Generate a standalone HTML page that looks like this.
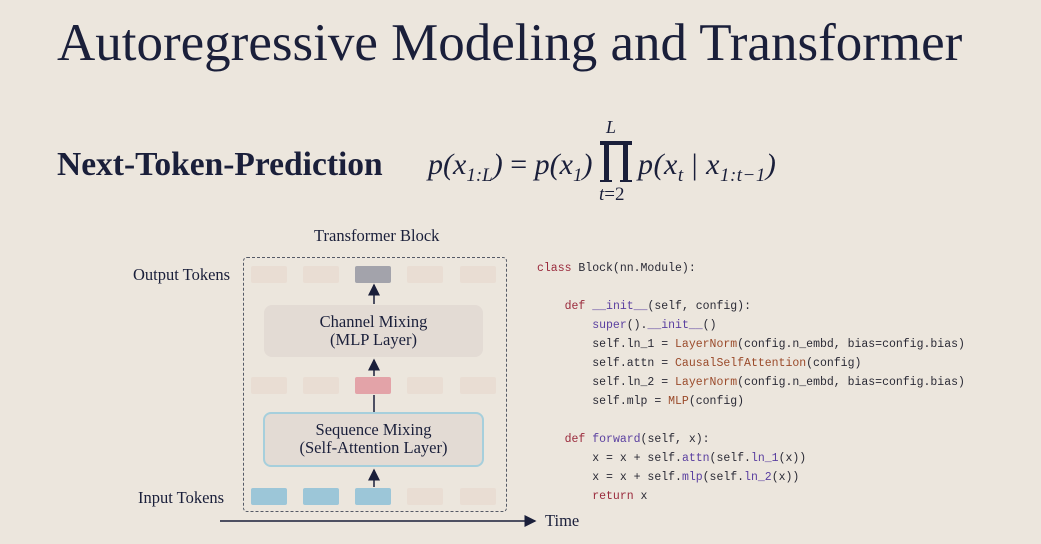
<!DOCTYPE html>
<html><head><style>
body{margin:0;width:1041px;height:544px;background:#ece6dd;position:relative;overflow:hidden;font-family:"Liberation Serif",serif;color:#1a1f3a}
.a{position:absolute;white-space:nowrap}
.tk{position:absolute;width:36px;height:17px;border-radius:2px;background:#e9ddd3}
.code{position:absolute;left:537px;top:259px;font-family:"Liberation Mono",monospace;font-size:11.5px;line-height:19px;color:#2a2a35;white-space:pre}
.k{color:#9a2a3c}.f{color:#5a3fa0}.c{color:#9a4a2a}
.m{font-size:30px;font-style:italic;line-height:1}
.m sub{font-size:19px}
</style></head><body>
<div class="a" style="left:57px;top:13px;font-size:53px;">Autoregressive Modeling and Transformer</div>
<div class="a" style="left:57px;top:146px;font-size:33.5px;font-weight:bold;">Next-Token-Prediction</div>
<div class="a m" style="left:428px;top:150px;">p(x<sub>1:L</sub>) <span style="font-style:normal">=</span> p(x<sub>1</sub>)</div>
<div class="a m" style="left:638px;top:150px;letter-spacing:0.5px">p(x<sub>t</sub> <span style="font-style:normal">|</span> x<sub>1:t−1</sub>)</div>
<div class="a" style="left:606px;top:117px;font-size:18px;font-style:italic;">L</div>
<div class="a" style="left:599px;top:184px;font-size:19px;font-style:italic;">t<span style="font-style:normal">=2</span></div>
<svg class="a" style="left:0;top:0" width="1041" height="544">
<g fill="#1a1f3a">
<rect x="600" y="141" width="32" height="4"/>
<rect x="604" y="141" width="5" height="41"/>
<rect x="623" y="141" width="5" height="41"/>
<rect x="600" y="180" width="12" height="2"/>
<rect x="620" y="180" width="12" height="2"/>
</g></svg>

<div class="a" style="left:314px;top:226px;font-size:16.5px;">Transformer Block</div>
<div class="a" style="left:133px;top:265px;font-size:16.5px;">Output Tokens</div>
<div class="a" style="left:138px;top:488px;font-size:16.5px;">Input Tokens</div>
<div class="a" style="left:243px;top:257px;width:262px;height:253px;border:1.5px dashed #555a66;border-radius:4px"></div>

<div class="tk" style="left:251px;top:266px"></div><div class="tk" style="left:303px;top:266px"></div><div class="tk" style="left:355px;top:266px;background:#a3a3ab"></div><div class="tk" style="left:407px;top:266px"></div><div class="tk" style="left:460px;top:266px"></div>
<div class="tk" style="left:251px;top:377px"></div><div class="tk" style="left:303px;top:377px"></div><div class="tk" style="left:355px;top:377px;background:#e3a3a8"></div><div class="tk" style="left:407px;top:377px"></div><div class="tk" style="left:460px;top:377px"></div>
<div class="tk" style="left:251px;top:488px;background:#9cc6d8"></div><div class="tk" style="left:303px;top:488px;background:#9cc6d8"></div><div class="tk" style="left:355px;top:488px;background:#9cc6d8"></div><div class="tk" style="left:407px;top:488px"></div><div class="tk" style="left:460px;top:488px"></div>

<div class="a" style="left:264px;top:305px;width:219px;height:52px;border-radius:8px;background:#e3dbd4;text-align:center;font-size:16.5px;line-height:18px;padding-top:8px;box-sizing:border-box">Channel Mixing<br>(MLP Layer)</div>
<div class="a" style="left:263px;top:412px;width:221px;height:55px;border-radius:8px;background:#e3dbd4;border:2px solid #a6cfdc;box-sizing:border-box;text-align:center;font-size:16.5px;line-height:18px;padding-top:7px">Sequence Mixing<br>(Self-Attention Layer)</div>

<svg class="a" style="left:0;top:0" width="1041" height="544">
<defs><marker id="m" markerWidth="8" markerHeight="8" refX="7" refY="4" orient="auto"><path d="M0,0L8,4L0,8z" fill="#1a1f3a"/></marker></defs>
<g stroke="#1a1f3a" stroke-width="1.5">
<line x1="374" y1="304" x2="374" y2="285" marker-end="url(#m)"/>
<line x1="374" y1="376" x2="374" y2="360" marker-end="url(#m)"/>
<line x1="374" y1="412" x2="374" y2="395"/>
<line x1="374" y1="487" x2="374" y2="470" marker-end="url(#m)"/>
<line x1="220" y1="521" x2="535" y2="521" marker-end="url(#m)"/>
</g></svg>
<div class="a" style="left:545px;top:511px;font-size:16.5px;">Time</div>

<div class="code"><span class="k">class</span> Block(nn.Module):

    <span class="k">def</span> <span class="f">__init__</span>(self, config):
        <span class="f">super</span>().<span class="f">__init__</span>()
        self.ln_1 = <span class="c">LayerNorm</span>(config.n_embd, bias=config.bias)
        self.attn = <span class="c">CausalSelfAttention</span>(config)
        self.ln_2 = <span class="c">LayerNorm</span>(config.n_embd, bias=config.bias)
        self.mlp = <span class="c">MLP</span>(config)

    <span class="k">def</span> <span class="f">forward</span>(self, x):
        x = x + self.<span class="f">attn</span>(self.<span class="f">ln_1</span>(x))
        x = x + self.<span class="f">mlp</span>(self.<span class="f">ln_2</span>(x))
        <span class="k">return</span> x</div>
</body></html>
